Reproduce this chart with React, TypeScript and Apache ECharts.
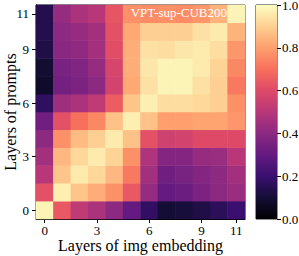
import React, { useEffect, useRef } from "react";
import * as echarts from "echarts";

const layers = ["0", "1", "2", "3", "4", "5", "6", "7", "8", "9", "10", "11"];
const shownTicks = [0, 3, 6, 9, 11];

const row0 = [0.98, 0.64, 0.52, 0.47, 0.40, 0.30, 0.18, 0.10, 0.11, 0.13, 0.16, 0.20];
const row1 = [0.62, 0.97, 0.88, 0.83, 0.77, 0.64, 0.42, 0.30, 0.32, 0.36, 0.40, 0.43];
const row2 = [0.50, 0.88, 0.96, 0.92, 0.85, 0.72, 0.45, 0.33, 0.35, 0.38, 0.40, 0.45];
const row3 = [0.45, 0.85, 0.92, 0.96, 0.91, 0.77, 0.48, 0.38, 0.38, 0.42, 0.43, 0.50];
const row4 = [0.40, 0.77, 0.86, 0.90, 0.96, 0.87, 0.62, 0.56, 0.57, 0.60, 0.60, 0.60];
const row5 = [0.33, 0.62, 0.70, 0.75, 0.87, 0.97, 0.87, 0.80, 0.80, 0.81, 0.81, 0.78];
const row6 = [0.17, 0.44, 0.47, 0.52, 0.65, 0.88, 0.97, 0.93, 0.93, 0.92, 0.90, 0.77];
const row7 = [0.08, 0.34, 0.36, 0.40, 0.57, 0.82, 0.94, 0.98, 0.98, 0.94, 0.90, 0.72];
const row8 = [0.09, 0.35, 0.37, 0.42, 0.58, 0.83, 0.95, 0.98, 0.98, 0.96, 0.91, 0.75];
const row9 = [0.13, 0.39, 0.41, 0.45, 0.61, 0.83, 0.94, 0.93, 0.95, 0.96, 0.93, 0.78];
const row10 = [0.14, 0.40, 0.42, 0.45, 0.62, 0.82, 0.90, 0.90, 0.90, 0.94, 0.96, 0.84];
const row11 = [0.14, 0.42, 0.47, 0.50, 0.63, 0.77, 0.76, 0.77, 0.76, 0.78, 0.84, 0.98];

const rows = [row0, row1, row2, row3, row4, row5, row6, row7, row8, row9, row10, row11];

const magma = [
  "#000004", "#140e36", "#3b0f70", "#641a80", "#8c2981", "#b73779",
  "#de4968", "#f7705c", "#fe9f6d", "#fecf92", "#fcfdbf",
];

const FONT = "'Liberation Serif', 'DejaVu Serif', serif";

export default function App() {
  const ref = useRef<HTMLDivElement>(null);
  useEffect(() => {
    document.body.style.margin = "0";
    if (!ref.current) return;
    const chart = echarts.init(ref.current, undefined, { renderer: "svg" });
    const data: number[][] = [];
    rows.forEach((r, y) => r.forEach((v, x) => data.push([x, y, v])));
    const stops = magma.map((c, i) => ({ offset: i / (magma.length - 1), color: c }));
    const tickFilter = (i: number) => shownTicks.includes(i);
    chart.setOption({
      animation: false,
      backgroundColor: "#fff",
      title: {
        text: "VPT-sup-CUB200",
        right: 72,
        top: 6,
        padding: 0,
        textStyle: { color: "#fff", fontFamily: FONT, fontSize: 13, fontWeight: "normal" },
      },
      grid: [
        { left: 36, top: 5, width: 209, height: 214, show: true, borderColor: "#222", borderWidth: 1, outerBoundsMode: "none", containLabel: false },
        { left: 256, top: 5, width: 21, height: 214, show: true, borderColor: "#222", borderWidth: 1, outerBoundsMode: "none", containLabel: false },
      ],
      xAxis: [
        {
          type: "category",
          gridIndex: 0,
          data: layers,
          name: "Layers of img embedding",
          nameLocation: "middle",
          nameGap: 18,
          nameMoveOverlap: false,
          nameTextStyle: { fontFamily: FONT, fontSize: 16, color: "#000" },
          axisLine: { show: true, lineStyle: { color: "#000" } },
          axisTick: { show: true, alignWithLabel: true, interval: tickFilter, length: 4, lineStyle: { color: "#000" } },
          axisLabel: { interval: tickFilter, fontFamily: FONT, fontSize: 13, color: "#000", margin: 5 },
          splitLine: { show: false },
          splitArea: { show: false },
        },
        {
          type: "category",
          gridIndex: 1,
          data: ["c"],
          show: false,
        },
      ],
      yAxis: [
        {
          type: "category",
          gridIndex: 0,
          data: layers,
          name: "Layers of prompts",
          nameLocation: "middle",
          nameGap: 18,
          nameMoveOverlap: false,
          nameTextStyle: { fontFamily: FONT, fontSize: 16, color: "#000" },
          axisLine: { show: true, lineStyle: { color: "#000" } },
          axisTick: { show: true, alignWithLabel: true, interval: tickFilter, length: 4, lineStyle: { color: "#000" } },
          axisLabel: { interval: tickFilter, fontFamily: FONT, fontSize: 13, color: "#000", margin: 7 },
          splitLine: { show: false },
          splitArea: { show: false },
        },
        {
          type: "value",
          gridIndex: 1,
          min: 0,
          max: 1,
          interval: 0.2,
          position: "right",
          axisLine: { show: false },
          axisTick: { show: true, length: 4, lineStyle: { color: "#000" } },
          axisLabel: {
            fontFamily: FONT,
            fontSize: 13,
            lineHeight: 10,
            color: "#000",
            margin: 5,
            formatter: (v: number) => v.toFixed(1),
          },
          splitLine: { show: false },
        },
      ],
      visualMap: {
        show: false,
        min: 0,
        max: 1,
        seriesIndex: 0,
        dimension: 2,
        inRange: { color: magma },
      },
      series: [
        {
          type: "heatmap",
          xAxisIndex: 0,
          yAxisIndex: 0,
          data,
          itemStyle: { borderWidth: 0 },
          emphasis: { disabled: true },
        },
        {
          type: "bar",
          xAxisIndex: 1,
          yAxisIndex: 1,
          data: [1],
          barWidth: "100%",
          itemStyle: { color: new echarts.graphic.LinearGradient(0, 1, 0, 0, stops) },
        },
      ],
    });
    return () => chart.dispose();
  }, []);
  return <div ref={ref} style={{ width: 299, height: 256 }} />;
}
